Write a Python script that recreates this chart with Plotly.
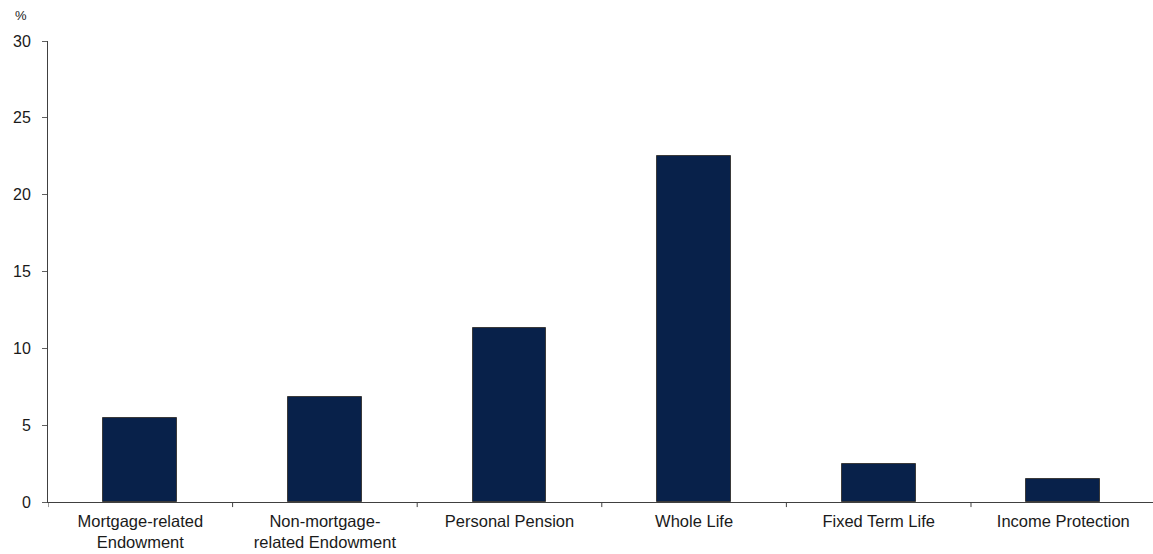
import plotly.graph_objects as go

# Share of policies by product type (%)
categories = [
    "Mortgage-related<br>Endowment",
    "Non-mortgage-<br>related Endowment",
    "Personal Pension",
    "Whole Life",
    "Fixed Term Life",
    "Income Protection",
]
values = [5.45, 6.85, 11.3, 22.5, 2.5, 1.5]
y_ticks = [0, 5, 10, 15, 20, 25, 30]

W, H = 1153, 554
fig = go.Figure(
    go.Bar(
        x=list(range(len(categories))),
        y=values,
        width=0.4,
        marker=dict(color="#08214a", line=dict(color="#3a3a3a", width=1)),
        hoverinfo="skip",
    )
)

font = dict(family="Liberation Sans, Arial, sans-serif", color="#1a1a1a")

fig.update_layout(
    width=W,
    height=H,
    margin=dict(l=48, r=0, t=41, b=52, autoexpand=False),
    paper_bgcolor="white",
    plot_bgcolor="white",
    showlegend=False,
    bargap=0,
    xaxis=dict(
        type="linear",
        range=[-0.5, 5.486],
        tickmode="array",
        tickvals=list(range(len(categories))),
        ticktext=categories,
        ticks="",
        ticklabelstandoff=4,
        automargin=False,
        showline=True,
        linecolor="#404040",
        linewidth=1,
        showgrid=False,
        zeroline=False,
        tickfont=dict(size=16.5, **font),
    ),
    yaxis=dict(
        range=[0, 30],
        tickvals=y_ticks,
        ticks="outside",
        ticklen=5,
        tickcolor="#606060",
        ticklabelstandoff=8,
        automargin=False,
        showline=True,
        linecolor="#404040",
        linewidth=1,
        showgrid=False,
        zeroline=False,
        tickfont=dict(size=16, **font),
    ),
)

# category boundary ticks below the axis
for b in [i - 0.5 for i in range(len(categories))]:
    fig.add_shape(
        type="line", xref="x", yref="paper",
        x0=b, x1=b, y0=0, y1=-0.011,
        line=dict(color="#404040", width=1),
    )

fig.add_annotation(
    text="%", xref="paper", yref="paper", x=-0.024, y=1.035,
    xanchor="center", yanchor="bottom", showarrow=False,
    font=dict(size=13, **font),
)

fig.write_html("out.html")
